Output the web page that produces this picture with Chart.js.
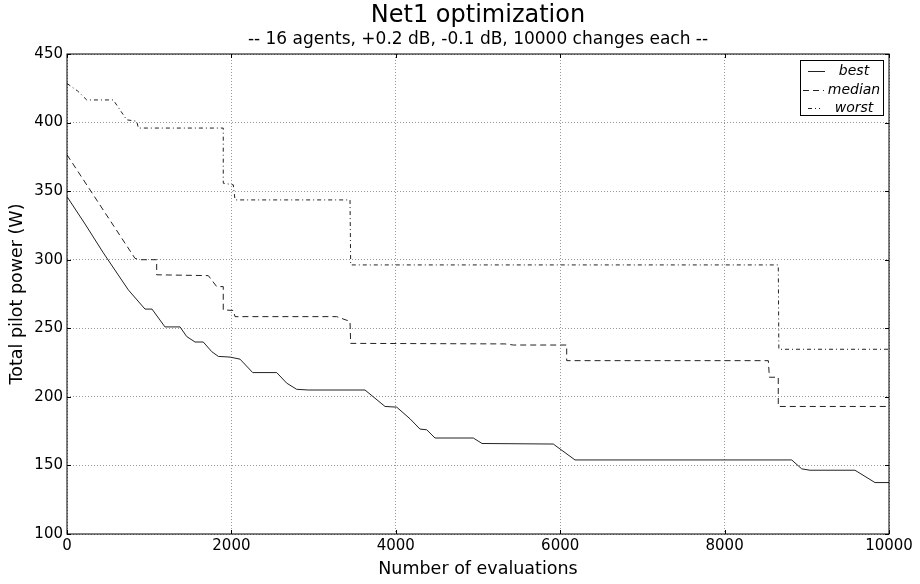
<!DOCTYPE html>
<html>
<head>
<meta charset="utf-8">
<script src="https://cdn.jsdelivr.net/npm/chart.js@4"></script>
<style>
  body { margin: 0; background: #fff; }
</style>
</head>
<body>
<canvas id="myChart" width="920" height="584"></canvas>
<script>
// values
const bestX = [0, 220, 442, 746, 949, 1034, 1192, 1375, 1456, 1557, 1658, 1760, 1841, 1983, 2105, 2259, 2551, 2673, 2794, 2935, 3625, 3869, 4011, 4173, 4294, 4376, 4477, 4943, 5049, 5916, 6180, 8816, 8938, 9039, 9586, 9830, 10000];
const bestY = [346, 326, 305, 278, 264, 264, 251, 251, 244, 240, 240, 233, 229.5, 229, 227.5, 217.7, 217.7, 210, 205.5, 205, 205, 193, 192.5, 184, 176.5, 176, 170, 170, 166, 165.6, 154, 154, 147.5, 146.5, 146.5, 137.5, 137.5];

const medianX = [0, 827, 888, 1091, 1091, 1719, 1821, 1901, 1901, 2023, 2044, 3281, 3443, 3451, 5328, 5430, 6079, 6079, 8532, 8545, 8653, 8653, 10000];
const medianY = [376.5, 301, 300, 300, 289, 288.4, 280.4, 280.4, 263.4, 263, 258.5, 258.5, 255, 239, 238.6, 237.8, 237.8, 226.4, 226.4, 214.3, 214.3, 193, 193];

const worstX = [0, 130, 240, 563, 726, 848, 868, 1901, 1901, 2023, 2044, 3443, 3451, 8653, 8660, 10000];
const worstY = [428.5, 423, 416.5, 416.5, 402, 401, 396, 396, 355.8, 354.6, 343.6, 343.6, 296.2, 296.2, 234.7, 234.7];

const seriesNames = ['best', 'median', 'worst'];
const seriesDash = [[], [6, 4], [4, 3, 1, 3]];

function toPoints(xs, ys) {
    return xs.map((x, i) => ({ x: x, y: ys[i] }));
}

const FONT = 'DejaVu Sans';

// matplotlib-like frame, inward ticks and legend box
const framePlugin = {
    id: 'frame',
    afterDraw(chart) {
        const ctx = chart.ctx;
        const a = chart.chartArea;
        ctx.save();
        ctx.strokeStyle = '#000';
        ctx.lineWidth = 1;
        ctx.setLineDash([]);
        ctx.strokeRect(a.left, a.top, a.right - a.left, a.bottom - a.top);

        const xs = chart.scales.x, ys = chart.scales.y;
        ctx.beginPath();
        xs.ticks.forEach(t => {
            const px = Math.round(xs.getPixelForValue(t.value)) + 0.5;
            ctx.moveTo(px, a.bottom); ctx.lineTo(px, a.bottom - 4);
            ctx.moveTo(px, a.top); ctx.lineTo(px, a.top + 4);
        });
        ys.ticks.forEach(t => {
            const py = Math.round(ys.getPixelForValue(t.value)) + 0.5;
            ctx.moveTo(a.left, py); ctx.lineTo(a.left + 4, py);
            ctx.moveTo(a.right, py); ctx.lineTo(a.right - 4, py);
        });
        ctx.stroke();

        // legend
        const bx = 800.5, by = 60.5, bw = 83, bh = 55;
        ctx.fillStyle = '#fff';
        ctx.fillRect(bx, by, bw, bh);
        ctx.strokeStyle = '#000';
        ctx.strokeRect(bx, by, bw, bh);
        const rows = [71, 90, 108];
        const sample = [[808, 825], [803, 824], [808, 820]];
        ctx.font = 'italic 14px "' + FONT + '"';
        ctx.textAlign = 'center';
        ctx.textBaseline = 'middle';
        seriesNames.forEach((name, i) => {
            ctx.strokeStyle = '#222';
            ctx.setLineDash(seriesDash[i]);
            ctx.beginPath();
            ctx.moveTo(sample[i][0], rows[i] + 0.5);
            ctx.lineTo(sample[i][1], rows[i] + 0.5);
            ctx.stroke();
            ctx.setLineDash([]);
            ctx.fillStyle = '#000';
            ctx.fillText(name, 854, rows[i]);
        });
        ctx.restore();
    }
};

const ctx = document.getElementById('myChart');
new Chart(ctx, {
    type: 'scatter',
    data: {
        datasets: [
            { label: seriesNames[0], data: toPoints(bestX, bestY), borderDash: seriesDash[0] },
            { label: seriesNames[1], data: toPoints(medianX, medianY), borderDash: seriesDash[1] },
            { label: seriesNames[2], data: toPoints(worstX, worstY), borderDash: seriesDash[2] }
        ].map(d => Object.assign(d, {
            showLine: true,
            borderColor: '#222',
            backgroundColor: '#222',
            borderWidth: 1,
            pointRadius: 0,
            tension: 0
        }))
    },
    options: {
        responsive: false,
        animation: false,
        layout: { padding: { left: 0, right: 31, top: 0, bottom: 0 } },
        plugins: {
            legend: { display: false },
            tooltip: { enabled: false },
            title: {
                display: true,
                text: 'Net1 optimization',
                color: '#000',
                fullSize: false,
                font: { family: FONT, size: 24, weight: 'normal', lineHeight: 1.0 },
                padding: { top: 4, bottom: 0 }
            },
            subtitle: {
                display: true,
                text: '-- 16 agents, +0.2 dB, -0.1 dB, 10000 changes each --',
                color: '#000',
                fullSize: false,
                font: { family: FONT, size: 17, weight: 'normal', lineHeight: 1.2 },
                padding: { top: 1, bottom: 4.6 }
            }
        },
        scales: {
            x: {
                type: 'linear',
                min: 0,
                max: 10000,
                ticks: { stepSize: 2000, color: '#000', padding: 3, font: { family: FONT, size: 15 }, callback: v => String(v) },
                grid: { color: '#999', drawTicks: false },
                border: { display: false, dash: [1, 2] },
                title: {
                    display: true,
                    text: 'Number of evaluations',
                    color: '#000',
                    font: { family: FONT, size: 17.5 },
                    padding: { top: 0, bottom: 4 }
                },
                afterFit: s => { s.height = 50; }
            },
            y: {
                min: 100,
                max: 450,
                ticks: { stepSize: 50, color: '#000', padding: 4, font: { family: FONT, size: 15 }, callback: v => String(v) },
                grid: { color: '#999', drawTicks: false },
                border: { display: false, dash: [1, 2] },
                title: {
                    display: true,
                    text: 'Total pilot power (W)',
                    color: '#000',
                    font: { family: FONT, size: 17.5 },
                    padding: { top: 7, bottom: 0 }
                },
                afterFit: s => { s.width = 67; }
            }
        }
    },
    plugins: [framePlugin]
});
</script>
</body>
</html>
